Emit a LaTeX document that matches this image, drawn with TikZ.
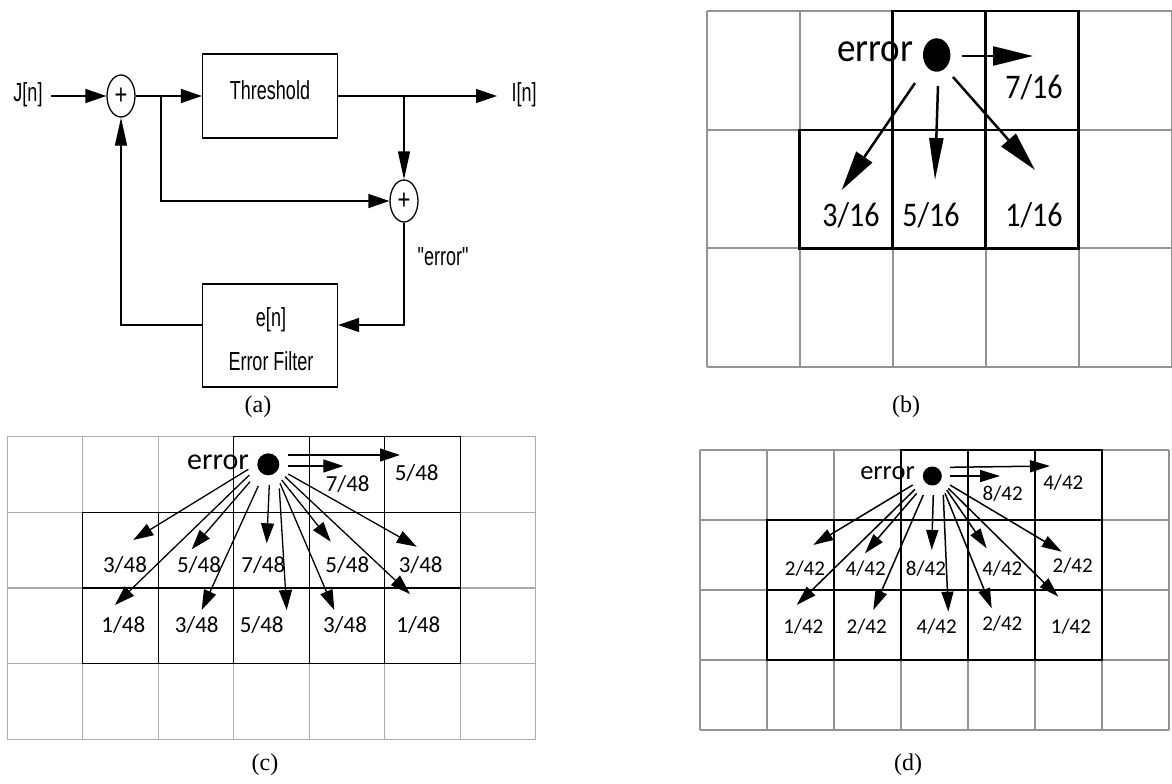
\documentclass[tikz,border=0pt]{standalone}
\usepackage{fontspec}
\usepackage{graphicx}
\setmainfont{Liberation Serif}
\newfontfamily\blockfont{Liberation Sans}
\newfontfamily\gridfont{Carlito}
\usetikzlibrary{arrows.meta,shapes.geometric,calc}
\newcommand\vstretch[2]{\scalebox{1}[#1]{#2}}

\begin{document}
\begin{tikzpicture}[x=1pt,y=-1pt,
  wire/.style={line width=1.3pt},
  harr/.style={wire,-{Triangle[length=21pt,width=14pt]}},
  varr/.style={wire,-{Triangle[length=28pt,width=12pt]}},
  blk/.style={draw,line width=1.3pt,minimum width=135pt,inner sep=0},
  sum/.style={draw,ellipse,line width=1.3pt,minimum width=28pt,minimum height=42pt,inner sep=0},
  atxt/.style={font=\blockfont\fontsize{18}{20}\selectfont,inner sep=0},
  plustxt/.style={font=\blockfont\fontsize{22}{24}\selectfont},
  captxt/.style={font=\rmfamily\fontsize{24}{26}\selectfont,inner sep=0},
  % grid (b)
  gridb/.style={draw=black!42,line width=2pt},
  boxb/.style={draw=black,line width=2.2pt},
  arrb/.style={line width=2.5pt,-{Triangle[length=40pt,width=19pt]}},
  numb/.style={font=\gridfont\fontsize{30}{32}\selectfont,inner sep=0},
  errb/.style={font=\gridfont\fontsize{37}{40}\selectfont,inner sep=0,anchor=base},
  % grid (c)
  gridc/.style={draw=black!33,line width=1.2pt},
  boxc/.style={draw=black,line width=1.2pt},
  arrc/.style={line width=1.3pt,-{Triangle[length=20pt,width=13pt]}},
  numc/.style={font=\gridfont\fontsize{23}{25}\selectfont,inner sep=0},
  errc/.style={font=\gridfont\fontsize{30}{32}\selectfont,inner sep=0,anchor=base},
  % grid (d)
  gridd/.style={draw=black!42,line width=2pt},
  boxd/.style={draw=black,line width=2pt},
  arrd/.style={line width=1.5pt,-{Triangle[length=20pt,width=12pt]}},
  numd/.style={font=\gridfont\fontsize{21}{23}\selectfont,inner sep=0},
  errd/.style={font=\gridfont\fontsize{26.5}{28}\selectfont,inner sep=0,anchor=base},
  dot/.style={fill=black,ellipse,inner sep=0}
]
\useasboundingbox (0,0) rectangle (1172,784);
\fill[white] (0,0) rectangle (1172,784);

% ---------------- (a) error diffusion loop ----------------
\node[blk,minimum height=84pt] (th) at (270,96) {};
\node[atxt] (thl) at (270,90) {\vstretch{1.45}{Threshold}};
\node[blk,minimum height=103pt] (ef) at (270,335.5) {};
\node[atxt] (efa) at (271,320) {\vstretch{1.45}{e[n]}};
\node[atxt] (efb) at (271,361) {\vstretch{1.45}{Error Filter}};
\node[sum] (s1) at (121,96) {};
\node[sum] (s2) at (404,201) {};
\node[plustxt] (p1) at (s1.center) {\vstretch{1.3}{+}};
\node[plustxt] (p2) at (s2.center) {\vstretch{1.3}{+}};
\node[atxt] (jn) at (28,95) {\vstretch{1.45}{J[n]}};
\node[atxt] (inn) at (524,95) {\vstretch{1.45}{I[n]}};
\node[atxt] (errl) at (443,257) {\vstretch{1.45}{"error"}};
\coordinate (jin) at (51,96);
\coordinate (b1) at (161,96);
\coordinate (b2) at (404,96);
\coordinate (iout) at (497,96);
\coordinate (fb) at (404,325);

\draw[harr] (jin) -- (s1.west);
\draw[harr] (s1.east) -- (th.west);
\draw[harr] (th.east) -- (iout);
\draw[varr] (b2) -- (s2.north);
\draw[harr] (b1) |- (s2.west);
\draw[harr] (s2.south) -- (fb) -- (fb -| ef.east);
\draw[varr] (fb -| ef.west) -| (s1.south);

\node[captxt] (capa) at (258,407) {(a)};

% ---------------- (b) Floyd-Steinberg ----------------
\foreach \i in {0,...,5}
  \draw[gridb] ({706.5+93*\i},11) -- ({706.5+93*\i},367);
\foreach \j in {0,...,3}
  \draw[gridb] (706.5,{11+118.7*\j}) -- (1171.5,{11+118.7*\j});
\foreach \i/\j in {2/0,3/0,1/1,2/1,3/1}
  \draw[boxb] ({706.5+93*\i},{11+118.7*\j}) rectangle ({706.5+93*(\i+1)},{11+118.7*(\j+1)});

\node[dot,minimum width=27.4pt,minimum height=33.4pt] (db) at (936.7,55) {};
\node[errb] (eb) at (875,61.7) {\vstretch{1.1}{error}};
\node[numb] (nb1) at (1034,87) {\vstretch{1.15}{7/16}};
\node[numb] (nb2) at (851,215) {\vstretch{1.15}{3/16}};
\node[numb] (nb3) at (931,215) {\vstretch{1.15}{5/16}};
\node[numb] (nb4) at (1034,215) {\vstretch{1.15}{1/16}};

\coordinate (bs0) at (961.7,56);  \coordinate (bt0) at (1033,56);
\coordinate (bs1) at (915,83);    \coordinate (bt1) at (841.7,190);
\coordinate (bs2) at (938,86);    \coordinate (bt2) at (935,180);
\coordinate (bs3) at (953,77);    \coordinate (bt3) at (1035,170);
\draw[arrb] (bs0) -- (bt0);
\draw[arrb] (bs1) -- (bt1);
\draw[line width=2.5pt,-{Triangle[length=42pt,width=14pt]}] (bs2) -- (bt2);
\draw[arrb] (bs3) -- (bt3);

\node[captxt] (capb) at (906,407) {(b)};

% ---------------- (c) Jarvis-Judice-Ninke ----------------
\foreach \i in {0,...,7}
  \draw[gridc] ({7.3+75.5*\i},436.7) -- ({7.3+75.5*\i},739.1);
\foreach \j in {0,...,4}
  \draw[gridc] (7.3,{436.7+75.6*\j}) -- (535.8,{436.7+75.6*\j});
\foreach \i/\j in {3/0,4/0,5/0,1/1,2/1,3/1,4/1,5/1,1/2,2/2,3/2,4/2,5/2}
  \draw[boxc] ({7.3+75.5*\i},{436.7+75.6*\j}) rectangle ({7.3+75.5*(\i+1)},{436.7+75.6*(\j+1)});

\node[dot,minimum size=22pt] (dc) at (268.3,464.3) {};
\node[errc] (ec) at (218,469) {error};
\node[numc] (nc01) at (347.7,484) {7/48};
\node[numc] (nc02) at (416.7,472.7) {5/48};
\node[numc] (nc11) at (125,565) {3/48};
\node[numc] (nc12) at (199,565) {5/48};
\node[numc] (nc13) at (263.3,565) {7/48};
\node[numc] (nc14) at (347.3,565) {5/48};
\node[numc] (nc15) at (420.7,565) {3/48};
\node[numc] (nc21) at (123.3,625) {1/48};
\node[numc] (nc22) at (196.7,625) {3/48};
\node[numc] (nc23) at (261.7,625) {5/48};
\node[numc] (nc24) at (345,625) {3/48};
\node[numc] (nc25) at (418.3,625) {1/48};

\foreach \n/\sx/\sy/\tx/\ty in {
  r1/288.3/455/400/455,
  r2/288.3/466/343.3/466,
  a1/248.3/469.3/133.3/540,
  a2/249.3/475/115/605,
  a3/250/481.7/191.7/549.3,
  a4/258.3/486/201.7/610,
  a5/269.3/485/266.7/543.3,
  a6/279.3/488.3/286.7/610,
  a7/281.7/480/330.7/541.7,
  a8/280/483.3/334.3/610,
  a9/288.3/474/416.7/546.7,
  a10/285/476.7/410/594}
{
  \coordinate (cs\n) at (\sx,\sy);
  \coordinate (ct\n) at (\tx,\ty);
  \draw[arrc] (cs\n) -- (ct\n);
}

\node[captxt] (capc) at (265,765) {(c)};

% ---------------- (d) Stucki ----------------
\foreach \i in {0,...,7}
  \draw[gridd] ({700+67*\i},450) -- ({700+67*\i},730);
\foreach \j in {0,...,4}
  \draw[gridd] (700,{450+70*\j}) -- (1169,{450+70*\j});
\foreach \i/\j in {3/0,4/0,5/0,1/1,2/1,3/1,4/1,5/1,1/2,2/2,3/2,4/2,5/2}
  \draw[boxd] ({700+67*\i},{450+70*\j}) rectangle ({700+67*(\i+1)},{450+70*(\j+1)});

\node[dot,minimum size=19pt] (dd) at (932.3,476) {};
\node[errd] (ed) at (887.5,479) {error};
\node[numd] (nd01) at (1002.7,493.3) {8/42};
\node[numd] (nd02) at (1063.3,482.7) {4/42};
\node[numd] (nd11) at (805,568.3) {2/42};
\node[numd] (nd12) at (865.7,568.3) {4/42};
\node[numd] (nd13) at (926,568.3) {8/42};
\node[numd] (nd14) at (1002.3,568.3) {4/42};
\node[numd] (nd15) at (1072.7,566) {2/42};
\node[numd] (nd21) at (803.3,626.7) {1/42};
\node[numd] (nd22) at (866.7,626.7) {2/42};
\node[numd] (nd23) at (936.7,626.7) {4/42};
\node[numd] (nd24) at (1002.3,623.3) {2/42};
\node[numd] (nd25) at (1071,626.7) {1/42};

\foreach \n/\sx/\sy/\tx/\ty in {
  r1/950/467.3/1050/466,
  r2/950/476/1000/476,
  a1/912.7/485/813.3/545,
  a2/915/489.3/796.7/605,
  a3/916.7/493.3/865/553.3,
  a4/923.3/495/873.3/610,
  a5/933.3/495/931.7/550,
  a6/943.3/495/948.3/611.7,
  a7/946.7/490/986.7/548.3,
  a8/945/493.3/991.7/608.3,
  a9/950/485/1061.7/551.7,
  a10/948.3/488.3/1058.3/596.7}
{
  \coordinate (ds\n) at (\sx,\sy);
  \coordinate (dt\n) at (\tx,\ty);
  \draw[arrd] (ds\n) -- (dt\n);
}

\node[captxt] (capd) at (908,765) {(d)};
\end{tikzpicture}
\end{document}
